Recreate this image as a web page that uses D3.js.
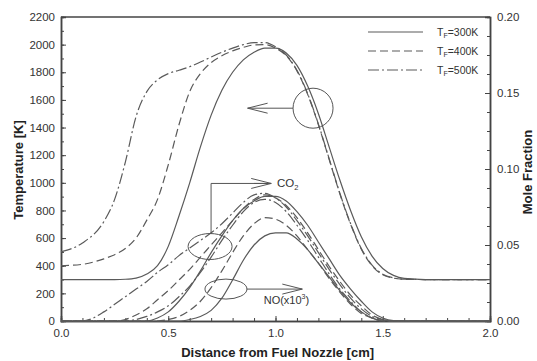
<!DOCTYPE html>
<html>
<head>
<meta charset="utf-8">
<script src="https://cdn.jsdelivr.net/npm/d3@7"></script>
<style>
  body { margin: 0; background: #fff; }
  svg { display: block; font-family: Arial, "Liberation Sans", sans-serif; }
  .axis path, .axis line { stroke: #444; }
  .axis text { fill: #333; font-size: 11.5px; }
  .curve { fill: none; stroke: #5a5a5a; stroke-width: 1.2; }
  .anno { fill: none; stroke: #555; stroke-width: 1; }
  .title { font-weight: bold; font-size: 13px; fill: #222; }
</style>
</head>
<body>
<div class="chart"></div>
<script>
// x positions shared by every curve [cm]
const xs = [0, 0.1, 0.2, 0.25, 0.3, 0.35, 0.4, 0.45, 0.5, 0.55, 0.6, 0.65, 0.7, 0.75, 0.8, 0.85,
  0.9, 0.95, 1.0, 1.05, 1.1, 1.15, 1.2, 1.25, 1.3, 1.35, 1.4, 1.45, 1.5, 1.55, 1.6, 1.7, 1.8, 1.9, 2.0];

// temperature [K]
const temp300 = [300, 300, 300, 300, 302, 310, 340, 400, 540, 760, 1000, 1260, 1490, 1670, 1800, 1890,
  1945, 1975, 1975, 1940, 1850, 1700, 1500, 1260, 1020, 800, 610, 470, 380, 330, 308, 300, 300, 300, 300];
const temp400 = [400, 410, 450, 480, 525, 600, 730, 880, 1130, 1420, 1660, 1790, 1870, 1920, 1955, 1980,
  1998, 2000, 1975, 1920, 1810, 1640, 1420, 1170, 920, 700, 520, 400, 335, 310, 302, 300, 300, 300, 300];
const temp500 = [500, 565, 720, 880, 1150, 1480, 1660, 1745, 1790, 1815, 1840, 1874, 1910, 1945, 1975, 2000,
  2015, 2015, 1985, 1925, 1815, 1645, 1425, 1175, 925, 705, 525, 405, 338, 312, 303, 300, 300, 300, 300];

// CO2 mole fraction
const co2_300 = [0, 0, 0, 0, 0, 0, 0, 0.002, 0.006, 0.013, 0.022, 0.033, 0.045, 0.056, 0.066, 0.074,
  0.079, 0.082, 0.082, 0.079, 0.072, 0.063, 0.052, 0.041, 0.030, 0.021, 0.013, 0.006, 0.002, 0.0003, 0, 0, 0, 0, 0];
const co2_400 = [0, 0, 0, 0, 0.001, 0.004, 0.008, 0.014, 0.020, 0.027, 0.034, 0.042, 0.050, 0.058, 0.066, 0.074,
  0.080, 0.083, 0.081, 0.076, 0.068, 0.058, 0.047, 0.036, 0.026, 0.017, 0.010, 0.004, 0.001, 0, 0, 0, 0, 0, 0];
const co2_500 = [0, 0, 0.006, 0.011, 0.016, 0.021, 0.026, 0.032, 0.037, 0.043, 0.048, 0.053, 0.058, 0.064, 0.071, 0.078,
  0.083, 0.084, 0.081, 0.075, 0.066, 0.056, 0.045, 0.034, 0.024, 0.015, 0.008, 0.003, 0.001, 0, 0, 0, 0, 0, 0];

// NO mole fraction (x10^3)
const no_300 = [0, 0, 0, 0, 0, 0, 0, 0, 0, 0, 0.001, 0.003, 0.007, 0.015, 0.027, 0.040,
  0.050, 0.056, 0.058, 0.058, 0.054, 0.047, 0.038, 0.029, 0.020, 0.012, 0.006, 0.002, 0.0005, 0, 0, 0, 0, 0, 0];
const no_400 = [0, 0, 0, 0, 0, 0, 0, 0, 0.001, 0.003, 0.007, 0.013, 0.022, 0.033, 0.045, 0.056,
  0.064, 0.068, 0.067, 0.063, 0.056, 0.047, 0.038, 0.028, 0.019, 0.011, 0.005, 0.002, 0, 0, 0, 0, 0, 0, 0];
const no_500 = [0, 0, 0, 0, 0, 0.001, 0.003, 0.006, 0.010, 0.016, 0.023, 0.032, 0.042, 0.053, 0.063, 0.072,
  0.078, 0.080, 0.078, 0.072, 0.063, 0.053, 0.042, 0.031, 0.021, 0.013, 0.006, 0.002, 0, 0, 0, 0, 0, 0, 0];

const legendLabels = ["300K", "400K", "500K"];
const xTicks = [0, 0.5, 1.0, 1.5, 2.0];
const tTicks = [0, 200, 400, 600, 800, 1000, 1200, 1400, 1600, 1800, 2000, 2200];
const mTicks = [0, 0.05, 0.1, 0.15, 0.2];

const W = 537, H = 361;
const MARGIN = { top: 17, right: 47, bottom: 40, left: 61 };

const xScale = d3.scaleLinear().domain([0, 2]).range([MARGIN.left, W - MARGIN.right]);
const tScale = d3.scaleLinear().domain([0, 2200]).range([H - MARGIN.bottom, MARGIN.top]);
const mScale = d3.scaleLinear().domain([0, 0.2]).range([H - MARGIN.bottom, MARGIN.top]);

const DASH = { solid: null, dashed: "8,4", dashdot: "11,3,2,3" };

const svg = d3.select(".chart").append("svg").attr("width", W).attr("height", H);

// frame
svg.append("line").attr("x1", MARGIN.left).attr("x2", W - MARGIN.right)
  .attr("y1", MARGIN.top).attr("y2", MARGIN.top).attr("stroke", "#444").attr("stroke-width", 1.5);

// axes
function axis(gen, tr, cls) {
  const g = svg.append("g").attr("class", "axis " + cls).attr("transform", tr).call(gen);
  g.select(".domain").attr("stroke-width", 1.5);
  return g;
}
const bottom = `translate(0,${H - MARGIN.bottom})`;
const right = `translate(${W - MARGIN.right},0)`;
const left = `translate(${MARGIN.left},0)`;

axis(d3.axisBottom(xScale).tickValues(d3.range(0, 2.01, 0.1)).tickSize(-3).tickFormat(""), bottom, "minor");
axis(d3.axisBottom(xScale).tickValues(xTicks).tickSize(-5).tickPadding(8).tickFormat(d3.format(".1f")), bottom, "x");
axis(d3.axisLeft(tScale).tickValues(d3.range(0, 2201, 100)).tickSize(-3).tickFormat(""), left, "minor");
axis(d3.axisLeft(tScale).tickValues(tTicks).tickSize(-5).tickPadding(6).tickFormat(d3.format("d")), left, "y");
axis(d3.axisRight(mScale).tickValues(d3.range(0, 0.2001, 0.0125)).tickSize(-3).tickFormat(""), right, "minor");
axis(d3.axisRight(mScale).tickValues(mTicks).tickSize(-5).tickPadding(7).tickFormat(d3.format(".2f")), right, "y2");

// curves
const tLine = (vals) => d3.line().curve(d3.curveMonotoneX).x((d, i) => xScale(xs[i])).y((d) => tScale(d))(vals);
const mLine = (vals) => d3.line().curve(d3.curveMonotoneX).x((d, i) => xScale(xs[i])).y((d) => mScale(d))(vals);

const series = [
  { path: tLine(temp300), dash: DASH.solid },
  { path: tLine(temp400), dash: DASH.dashed },
  { path: tLine(temp500), dash: DASH.dashdot },
  { path: mLine(co2_300), dash: DASH.solid },
  { path: mLine(co2_400), dash: DASH.dashed },
  { path: mLine(co2_500), dash: DASH.dashdot },
  { path: mLine(no_300), dash: DASH.solid },
  { path: mLine(no_400), dash: DASH.dashed },
  { path: mLine(no_500), dash: DASH.dashdot },
];
svg.selectAll("path.curve").data(series).enter().append("path")
  .attr("class", "curve")
  .attr("d", (d) => d.path)
  .attr("stroke-dasharray", (d) => d.dash);

// annotations: temperature circle + arrow
const arrow = (x1, y1, x2, y2) => {
  const dir = Math.sign(x2 - x1);
  svg.append("line").attr("class", "anno").attr("x1", x1).attr("y1", y1).attr("x2", x2).attr("y2", y2);
  svg.append("path").attr("class", "anno")
    .attr("d", `M${x2 - dir * 20},${y2 - 5}L${x2},${y2}L${x2 - dir * 20},${y2 + 5}`);
};

const cT = [xScale(1.175), tScale(1540)];
svg.append("circle").attr("class", "anno").attr("cx", cT[0]).attr("cy", cT[1]).attr("r", 20);
arrow(cT[0] - 20, cT[1], xScale(0.87), cT[1]);

// CO2 ellipse
const cC = [xScale(0.695), mScale(0.049)];
svg.append("ellipse").attr("class", "anno").attr("cx", cC[0]).attr("cy", cC[1]).attr("rx", 22).attr("ry", 13);
svg.append("path").attr("class", "anno")
  .attr("d", `M${cC[0] + 1},${cC[1] - 13}V${mScale(0.0905)}H${xScale(0.98)}`);
arrow(xScale(0.9), mScale(0.0905), xScale(0.98), mScale(0.0905));
const co2 = svg.append("text").attr("x", xScale(1.007)).attr("y", mScale(0.0905) + 4)
  .attr("font-size", 11.5).attr("fill", "#333").text("CO");
co2.append("tspan").attr("font-size", 7.5).attr("dy", 3).text("2");

// NO ellipse
const cN = [xScale(0.769), mScale(0.021)];
svg.append("ellipse").attr("class", "anno").attr("cx", cN[0]).attr("cy", cN[1]).attr("rx", 21).attr("ry", 10);
arrow(cN[0] + 21, cN[1], xScale(1.125), cN[1]);
const no = svg.append("text").attr("x", xScale(0.945)).attr("y", cN[1] + 15)
  .attr("font-size", 11).attr("fill", "#333").text("NO(x10");
no.append("tspan").attr("font-size", 7).attr("dy", -5).text("3");
no.append("tspan").attr("dy", 5).text(")");

// legend
const legDash = [DASH.solid, DASH.dashed, DASH.dashdot];
const leg = svg.append("g");
leg.selectAll("line").data(legendLabels).enter().append("line")
  .attr("class", "curve")
  .attr("x1", 368).attr("x2", 423)
  .attr("y1", (d, i) => 32 + i * 19).attr("y2", (d, i) => 32 + i * 19)
  .attr("stroke-dasharray", (d, i) => legDash[i]);
const lt = leg.selectAll("text").data(legendLabels).enter().append("text")
  .attr("x", 437).attr("y", (d, i) => 36 + i * 19)
  .attr("font-size", 10.5).attr("fill", "#333");
lt.append("tspan").text("T");
lt.append("tspan").attr("font-size", 7).attr("dy", 2).text("F");
lt.append("tspan").attr("dy", -2).text((d) => "=" + d);

// axis titles
svg.append("text").attr("class", "title").attr("text-anchor", "middle")
  .attr("x", xScale(1.01)).attr("y", 357).text("Distance from Fuel Nozzle [cm]");
svg.append("text").attr("class", "title").attr("text-anchor", "middle")
  .attr("transform", "translate(23,170) rotate(-90)").text("Temperature [K]");
svg.append("text").attr("class", "title").attr("text-anchor", "middle")
  .attr("transform", "translate(532,172) rotate(-90)").text("Mole Fraction");
</script>
</body>
</html>
